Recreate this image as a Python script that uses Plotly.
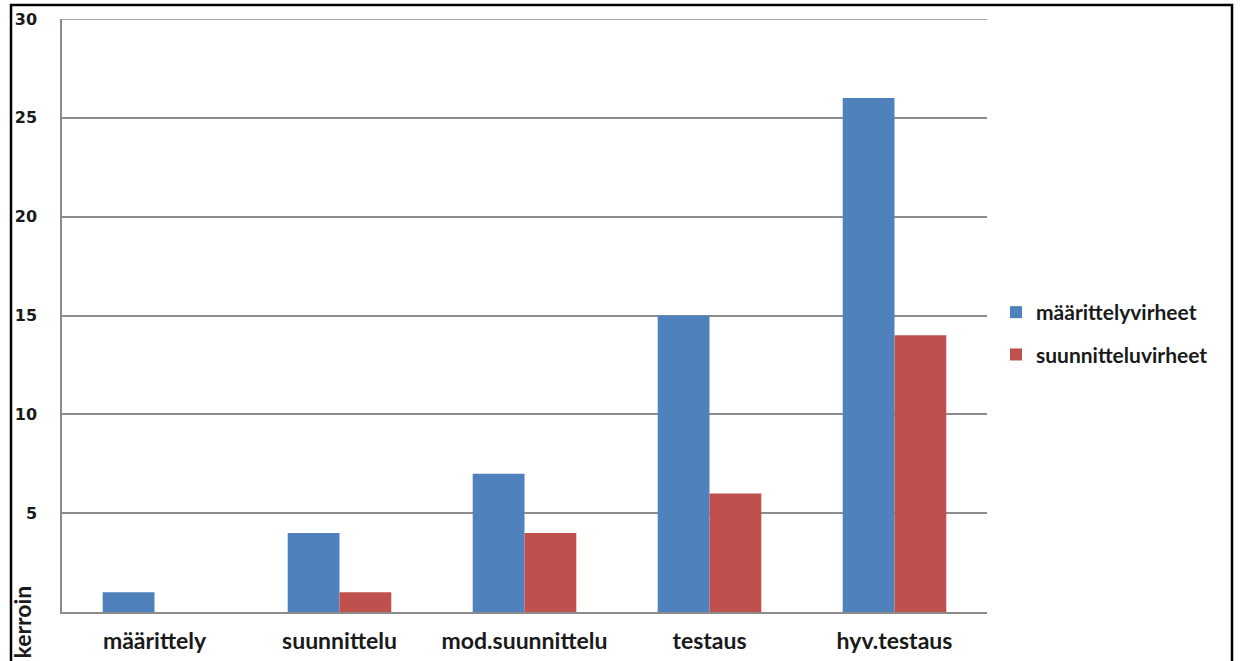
import plotly.graph_objects as go

# Kustannuskerroin virheen korjausvaiheen mukaan
vaiheet = ["määrittely", "suunnittelu", "mod.suunnittelu", "testaus", "hyv.testaus"]
maarittelyvirheet = [1, 4, 7, 15, 26]
suunnitteluvirheet = [0, 1, 4, 6, 14]
y_ticks = [0, 5, 10, 15, 20, 25, 30]
y_tick_text = ["", "5", "10", "15", "20", "25", "30"]

W, H = 1240, 661
L, R, T, B = 62, 987, 19, 612  # plot area in pixels
GRID = "#8c8c8c"


def px_x(px):
    return (px - L) / (R - L)


def px_y(py):
    return (B - py) / (B - T)


fig = go.Figure()
fig.add_trace(go.Bar(
    x=vaiheet, y=maarittelyvirheet, name="määrittelyvirheet",
    marker=dict(color="#4F81BD", line=dict(width=0)), legendgroup="a",
))
fig.add_trace(go.Bar(
    x=vaiheet, y=suunnitteluvirheet, name="suunnitteluvirheet",
    marker=dict(color="#C0504D", line=dict(width=0)), legendgroup="b",
))

fig.update_layout(
    width=W, height=H,
    margin=dict(l=L, r=W - R, t=T, b=H - B, pad=0, autoexpand=False),
    paper_bgcolor="white", plot_bgcolor="white",
    barmode="group", bargap=0.44, bargroupgap=0,
    showlegend=True,
    legend=dict(
        x=px_x(996), y=px_y(292), xanchor="left", yanchor="top",
        font=dict(family="Lato", size=21, color="#1a1a1a", weight="bold"),
        tracegroupgap=12, itemwidth=30, bgcolor="rgba(0,0,0,0)",
        traceorder="grouped",
    ),
    xaxis=dict(
        showgrid=False, showline=True, linecolor=GRID, linewidth=1.5,
        ticks="", ticklabelstandoff=8, automargin=False,
        tickfont=dict(family="Lato", size=23, color="#1a1a1a", weight="bold"),
    ),
    yaxis=dict(
        range=[0, 30], tickvals=y_ticks, ticktext=y_tick_text,
        showgrid=True, gridcolor=GRID, gridwidth=1.5,
        showline=True, linecolor=GRID, linewidth=1.5,
        zeroline=False, ticks="", ticklabelstandoff=20, automargin=False,
        tickfont=dict(family="DejaVu Sans", size=16, color="#1a1a1a", weight="bold"),
    ),
    annotations=[dict(
        text="kerroin", xref="paper", yref="paper",
        x=px_x(21), y=px_y(661), xanchor="center", yanchor="bottom",
        textangle=-90, showarrow=False,
        font=dict(family="Lato", size=23, color="#1a1a1a", weight="bold"),
    )],
    shapes=[
        # top gridline at the axis maximum
        dict(type="line", xref="paper", yref="y", x0=0, x1=1, y0=30, y1=30,
             line=dict(color=GRID, width=1.5), layer="below"),
        # outer frame
        dict(type="rect", xref="paper", yref="paper",
             x0=px_x(11), x1=px_x(1232), y0=px_y(680), y1=px_y(5),
             line=dict(color="black", width=2.5), fillcolor="rgba(0,0,0,0)",
             layer="above"),
    ],
)

fig.write_html("out.html")
